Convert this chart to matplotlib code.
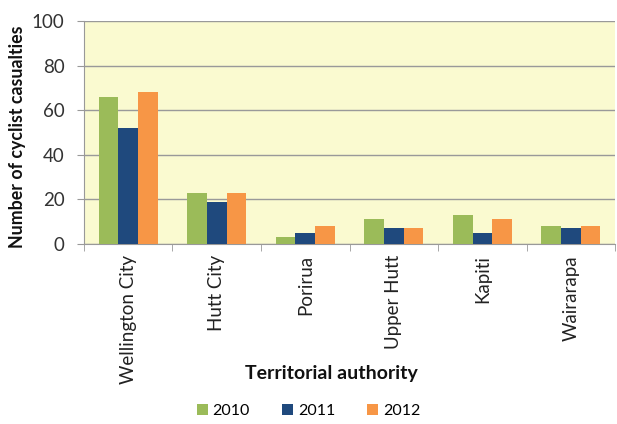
import numpy as np
import matplotlib
matplotlib.use("Agg")
import matplotlib.pyplot as plt

# Datos
authorities = ["Wellington City", "Hutt City", "Porirua", "Upper Hutt", "Kapiti", "Wairarapa"]
years = ["2010", "2011", "2012"]
v2010 = [66, 23, 3, 11, 13, 8]
v2011 = [52, 19, 5, 7, 5, 7]
v2012 = [68, 23, 8, 7, 11, 8]
colors = ["#9BBB59", "#1F497D", "#F79646"]

plt.rcParams["font.family"] = ["Lato", "DejaVu Sans"]

W, H = 617, 424
fig = plt.figure(figsize=(W / 100, H / 100), dpi=100)
ax = fig.add_axes([0.136, 0.425, 0.861, 0.525])
ax.set_facecolor("#FAFAD0")

x = np.arange(len(authorities))
w = 1 / 4.5
for i, (vals, yr) in enumerate(zip([v2010, v2011, v2012], years)):
    ax.bar(x + (i - 1) * w, vals, width=w, color=colors[i], label=yr, zorder=3)

ax.set_xlim(-0.5, len(authorities) - 0.5)
ax.set_ylim(0, 100)
ax.set_yticks([0, 20, 40, 60, 80, 100])
ax.tick_params(axis="y", labelsize=13.5, length=5, color="#999999", pad=9, colors="#333333")
ax.yaxis.grid(True, color="#999999", linewidth=1, zorder=0)

ax.set_xticks(x)
ax.set_xticklabels(authorities, rotation=90, fontsize=13.5, color="#222222")
ax.tick_params(axis="x", length=0, pad=8)
ax.set_xticks(np.arange(len(authorities) + 1) - 0.5, minor=True)
ax.tick_params(axis="x", which="minor", length=5, color="#999999")

for s in ["top", "right"]:
    ax.spines[s].set_visible(False)
for s in ["left", "bottom"]:
    ax.spines[s].set_color("#999999")

# titulos de ejes colocados a mano
fig.text(18 / W, 1 - 137 / H, "Number of cyclist casualties", rotation=90,
         fontsize=12.8, fontweight="bold", ha="center", va="center", color="#111111")
fig.text(331 / W, 1 - 373 / H, "Territorial authority",
         fontsize=14, fontweight="bold", ha="center", va="center", color="#111111")

handles, labels = ax.get_legend_handles_labels()
fig.legend(handles, labels, loc="center", bbox_to_anchor=(0.5, 1 - 411 / H), ncol=3, frameon=False,
           fontsize=11.5, handlelength=0.7, handleheight=0.7, handletextpad=0.3, columnspacing=2.0)

fig.savefig("out.png", dpi=100)
